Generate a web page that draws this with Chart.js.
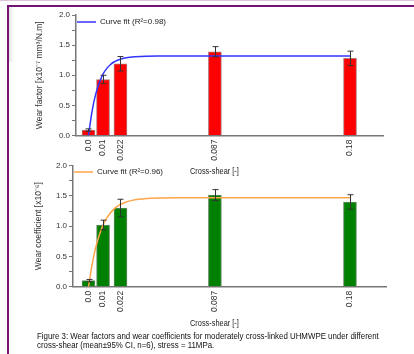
<!DOCTYPE html>
<html><head><meta charset="utf-8">
<script src="https://cdn.jsdelivr.net/npm/chart.js@4"></script>
<style>
body{margin:0;width:414px;height:354px;overflow:hidden;background:#fff;position:relative;font-family:"Liberation Sans",Arial,sans-serif;}
.abs{position:absolute}
#topline{left:0;top:0;width:414px;height:1px;background:#dcc6dc}
#frame{left:7px;top:5px;width:420px;height:360px;border-left:2px solid #741574;border-top:2px solid #741574}
#shade{left:9px;top:7px;width:5px;height:55px;background:linear-gradient(to right,#e4e4e4,#fff)}
.xt{left:190px;font-size:9px;line-height:10px;color:#222;white-space:nowrap;transform:scaleX(0.82);transform-origin:0 0}
#cap{left:37px;top:332px;font-size:9px;line-height:9px;color:#111;white-space:nowrap;transform:scaleX(0.876);transform-origin:0 0}
canvas{position:absolute;left:0}
</style></head><body>
<div id="topline" class="abs"></div>
<div id="frame" class="abs"></div>
<div id="shade" class="abs"></div>
<canvas id="c1" width="414" height="180" style="top:0"></canvas>
<canvas id="c2" width="414" height="190" style="top:150px"></canvas>
<div class="abs xt" style="top:166px">Cross-shear [-]</div>
<div class="abs xt" style="top:318px">Cross-shear [-]</div>
<div id="cap" class="abs">Figure 3: Wear factors and wear coefficients for moderately cross-linked UHMWPE under different<br>cross-shear (mean±95% CI, n=6), stress = 11MPa.</div>
<script>
// ---- data ----
const crossShear = [0, 0.01, 0.022, 0.087, 0.18];
const tickLabels = ['0.0', '0.01', '0.022', '0.087', '0.18'];
const wearFactor = [0.09, 0.93, 1.19, 1.39, 1.28];
const wearFactorCI = [0.02, 0.07, 0.12, 0.085, 0.12];
const wearCoef = [0.10, 1.02, 1.30, 1.515, 1.40];
const wearCoefCI = [0.02, 0.08, 0.145, 0.09, 0.12];
const fitX = [0, 0.0025, 0.005, 0.0075, 0.01, 0.0125, 0.015, 0.0175, 0.02, 0.025, 0.03, 0.04, 0.05, 0.06, 0.08, 0.1, 0.14, 0.18];
const fitFactor = [0, 0.41, 0.69, 0.88, 1.02, 1.11, 1.175, 1.22, 1.25, 1.287, 1.304, 1.316, 1.319, 1.32, 1.32, 1.32, 1.32, 1.32];
const fitCoef = [0, 0.375, 0.655, 0.86, 1.017, 1.132, 1.218, 1.282, 1.33, 1.392, 1.427, 1.457, 1.466, 1.469, 1.47, 1.47, 1.47, 1.47];
const fitLabels = ['Curve fit (R²=0.98)', 'Curve fit (R²=0.96)'];
const yTitles = ['Wear factor [x10⁻⁷ mm³/N.m]', 'Wear coefficient [x10⁻⁶]'];

const FN = '"Liberation Sans Narrow", "Arial Narrow", "Liberation Sans", sans-serif';
const FR = '"Liberation Sans", Arial, sans-serif';

const errorBars = {
  id: 'errorBars',
  afterDatasetsDraw(chart, args, o) {
    const ctx = chart.ctx, y = chart.scales.y;
    const meta = chart.getDatasetMeta(1);
    ctx.save();
    ctx.strokeStyle = '#333';
    ctx.lineWidth = 1;
    meta.data.forEach((el, i) => {
      const px = Math.round(el.x) + 0.5;
      const t = y.getPixelForValue(o.values[i] + o.errors[i]);
      const b = y.getPixelForValue(o.values[i] - o.errors[i]);
      ctx.beginPath();
      ctx.moveTo(px, t); ctx.lineTo(px, b);
      ctx.moveTo(px - 3, t); ctx.lineTo(px + 3, t);
      ctx.moveTo(px - 3, b); ctx.lineTo(px + 3, b);
      ctx.stroke();
    });
    ctx.restore();
  }
};

function build(id, p) {
  return new Chart(document.getElementById(id), {
    type: 'bar',
    data: {
      datasets: [
        { type: 'line', label: p.fitLabel, data: fitX.map((x, i) => ({ x: x, y: p.fit[i] })),
          borderColor: p.lineColor, borderWidth: 1.5, pointRadius: 0, cubicInterpolationMode: 'monotone', fill: false },
        { type: 'bar', label: 'bars', data: crossShear.map((x, i) => ({ x: x, y: p.values[i] })),
          backgroundColor: p.barColor, borderColor: p.barBorder, borderWidth: 1, barThickness: 13 }
      ]
    },
    options: {
      responsive: false, animation: false, events: [],
      layout: { padding: { left: 0, right: p.padRight, top: p.padTop, bottom: 0 } },
      scales: {
        x: {
          type: 'linear', min: p.xmin, max: p.xmax, offset: false,
          afterBuildTicks: s => { s.ticks = crossShear.map(v => ({ value: v })); },
          afterFit: s => { s.height = p.xH; },
          grid: { drawOnChartArea: false, drawTicks: false },
          border: { color: '#777', width: 1.5 },
          ticks: { autoSkip: false, minRotation: 90, maxRotation: 90, padding: 4, color: '#333',
                   font: { family: FR, size: 8.5 }, callback: (v, i) => tickLabels[i] }
        },
        y: {
          min: 0, max: 2,
          afterFit: s => { s.width = p.yW; },
          grid: { drawOnChartArea: false, tickLength: 4, color: '#777' },
          border: { color: '#777', width: 1.5 },
          ticks: { stepSize: 0.25, padding: 2, color: '#333', font: { family: FN, size: 8 },
                   callback: v => { const r = Math.round(v * 2); return Math.abs(v * 2 - r) < 1e-6 ? v.toFixed(1) : ''; } },
          title: { display: true, text: p.yTitle, color: '#333', font: { family: FR, size: 8.5 }, padding: { top: p.titlePad, bottom: 0 } }
        }
      },
      plugins: {
        legend: { position: 'chartArea', align: 'start',
          title: { display: true, text: '', font: { size: 1 }, padding: { top: p.legendShift, bottom: 0 } },
          labels: { usePointStyle: true, pointStyle: 'line', pointStyleWidth: 19, padding: 1, color: '#222',
                    font: { family: FN, size: 8 }, filter: it => it.datasetIndex === 0 } },
        tooltip: { enabled: false },
        errorBars: { values: p.values, errors: p.errors }
      }
    },
    plugins: [errorBars]
  });
}

build('c1', { fitLabel: fitLabels[0], fit: fitFactor, values: wearFactor, errors: wearFactorCI,
  lineColor: '#3434ff', barColor: '#ff0000', barBorder: 'rgba(110,0,0,0.55)',
  padRight: 31, padTop: 15, xmin: -0.0086, xmax: 0.2027, xH: 44.5, yW: 76, yTitle: yTitles[0], titlePad: 34.9, legendShift: 15.8 });
build('c2', { fitLabel: fitLabels[1], fit: fitCoef, values: wearCoef, errors: wearCoefCI,
  lineColor: '#ffa448', barColor: '#008000', barBorder: 'rgba(0,60,0,0.6)',
  padRight: 28, padTop: 15.7, xmin: -0.0107, xmax: 0.2048, xH: 53.3, yW: 73, yTitle: yTitles[1], titlePad: 33.4, legendShift: 15.8 });
</script>
</body></html>
